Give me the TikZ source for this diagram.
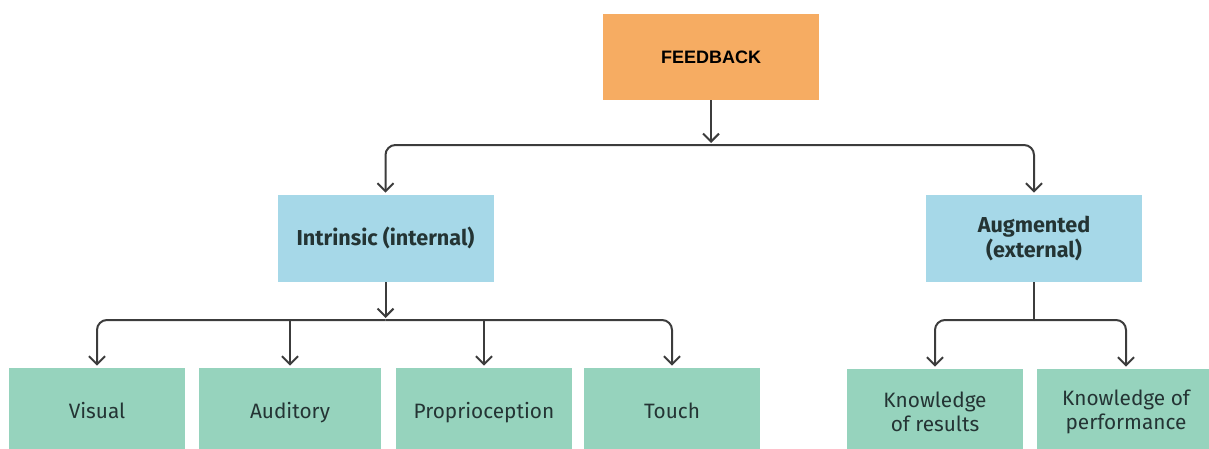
\documentclass[tikz,border=0pt]{standalone}
\usepackage{fontspec}
\setmainfont{Fira Sans}
\newfontfamily\headfont{Liberation Sans}
\definecolor{fborange}{RGB}{246,172,98}
\definecolor{typeblue}{RGB}{166,216,232}
\definecolor{leafgreen}{RGB}{150,211,189}
\definecolor{inkgray}{RGB}{60,60,60}
\definecolor{textdark}{RGB}{36,52,52}
\usepackage{tikz}
\usetikzlibrary{calc, positioning, arrows.meta}

\begin{document}
\begin{tikzpicture}[x=0.5pt, y=-0.5pt,
  mainbox/.style={fill=fborange, minimum width=108pt, minimum height=43pt,
    inner sep=0pt, align=center, font=\headfont\fontsize{9}{11}\selectfont\bfseries},
  typebox/.style={fill=typeblue, minimum width=108pt, minimum height=43.5pt,
    inner sep=0pt, align=center, text=textdark,
    font=\fontsize{10.8}{12.5}\selectfont\bfseries},
  leafbox/.style={fill=leafgreen, minimum width=88pt, minimum height=43pt,
    inner sep=0pt, align=center, text=textdark,
    font=\fontsize{10.4}{11.8}\selectfont},
  oneline/.style={text height=8.5pt, text depth=1.5pt},
  lnk/.style={draw=inkgray, line width=1pt, rounded corners=5pt},
  arw/.style={lnk, -{Straight Barb[length=4pt, width=8pt]}, shorten >=1pt},
]
\useasboundingbox (0,0) rectangle (1209,449);

\node[mainbox] (fb) at (711,57) {FEEDBACK};

\node[typebox, oneline] (intr) at (385.5,238.5) {Intrinsic (internal)};
\node[typebox] (aug) at (1034,238.5) {Augmented\\(external)};

\node[leafbox, oneline] (visual) at (97,411) {Visual};
\node[leafbox, oneline, minimum width=91pt] (audit) at (290,411) {Auditory};
\node[leafbox, oneline] (propr) at (484,411) {Proprioception};
\node[leafbox, oneline] (touch) at (672,411) {Touch};
\node[leafbox] (kres) at (935,412) {Knowledge\\of results};
\node[leafbox, minimum width=89pt] (kperf) at (1126,412) {Knowledge of\\performance};

\coordinate (tophub) at (711,145);
\coordinate (lefthub) at (385.5,320);
\coordinate (righthub) at (1034,320);

\draw[arw] (fb) -- (tophub);
\draw[arw] (tophub) -| (intr);
\draw[arw] (tophub) -| (aug);

\draw[arw] (intr) -- (lefthub);
\draw[arw] (lefthub) -| (visual);
\draw[arw] (lefthub) -| (touch);
\draw[arw] (audit |- lefthub) -- (audit);
\draw[arw] (propr |- lefthub) -- (propr);

\draw[lnk] (aug) -- (righthub);
\draw[arw] (righthub) -| (kres);
\draw[arw] (righthub) -| (kperf);
\end{tikzpicture}
\end{document}
